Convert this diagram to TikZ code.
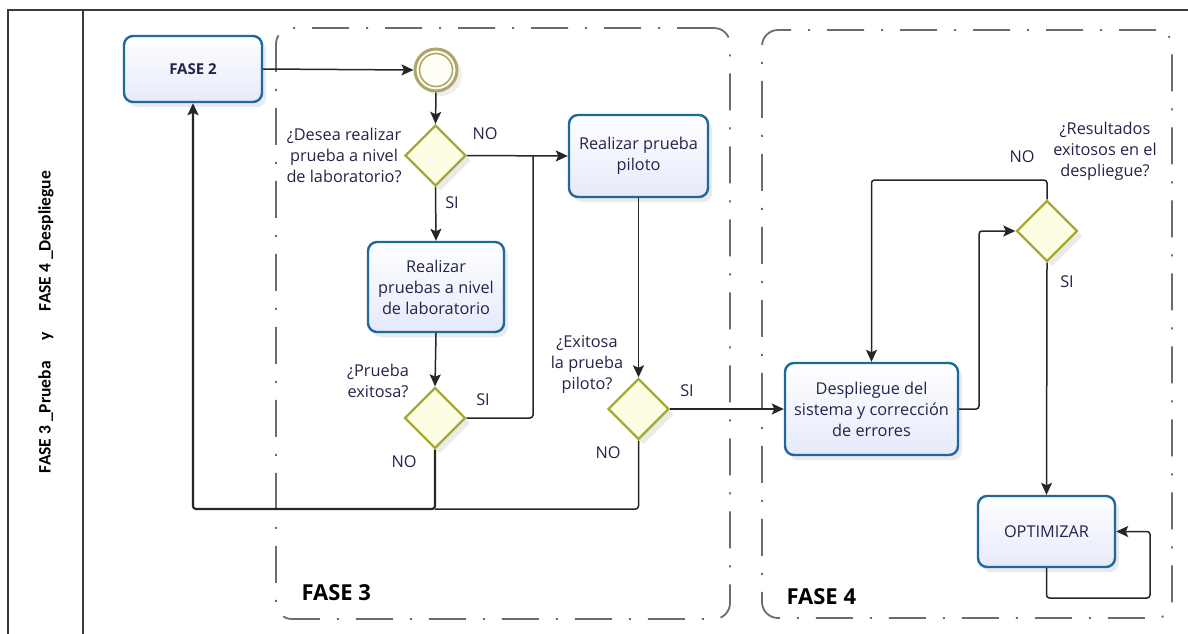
\documentclass[tikz,border=0pt]{standalone}
\usepackage{fontspec}
\setmainfont{Open Sans}
\newfontfamily\hdfont{Carlito}
\usetikzlibrary{shapes.geometric,arrows.meta,shadows,backgrounds}
\definecolor{taskline}{HTML}{1D6A9A}
\definecolor{taskfill}{HTML}{E6E9FA}
\definecolor{gateline}{HTML}{A8A832}
\definecolor{gatefill}{HTML}{FDFDE4}
\definecolor{evline}{HTML}{ADA66A}
\definecolor{evfill}{HTML}{FFFDF6}
\definecolor{txt}{HTML}{24244A}
\definecolor{grpline}{HTML}{6C6C6C}
\definecolor{laneline}{HTML}{3A3A3A}

% all connector paths, drawn once per style
\newcommand\flowpaths[2]{%
  \draw[#1] (f2.east) -- (start.west);
  \draw[#1] (start.south) -- (g1.north);
  \draw[#1] (g1.south) -- (lab.north);
  \draw[#1] (g1.east) -- (pil.west);
  \draw[#2] (g2.east) -| (j1);
  \draw[#1] (lab.south) -- (g2.north);
  \draw[#1, line width=2.2pt] (g2.south) -- (b1) -| (f2.south);
  \draw[#2] (g3.south) |- (b1);
  \draw[#1] (pil.south) -- (g3.north);
  \draw[#1] (g3.east) -- (dep.west);
  \draw[#1] (dep.east) -- (j2) |- (g4.west);
  \draw[#1] (g4.north) -- (j3) -| (dep.north);
  \draw[#1] (g4.south) -- (opt.north);
  \draw[#1] (opt.south) -- (j4) -| (j5) -- (opt.east);
}

\begin{document}
\begin{tikzpicture}[x=1pt,y=-1pt,
  every node/.style={font=\fontsize{16.3}{21}\selectfont, text=txt},
  task/.style={draw=taskline, line width=2.4pt, rounded corners=9pt,
    top color=white, bottom color=taskfill, align=center, inner sep=0pt,
    drop shadow={opacity=.16, shadow xshift=4pt, shadow yshift=-5pt}},
  gate/.style={diamond, draw=gateline, line width=2.4pt, fill=gatefill,
    minimum width=61pt, minimum height=61pt, inner sep=0pt,
    drop shadow={opacity=.16, shadow xshift=5pt, shadow yshift=-5pt}},
  grp/.style={draw=grpline, line width=1.8pt, rounded corners=16pt,
    dash pattern=on 37pt off 17pt on 2pt off 17pt, inner sep=0pt},
  grplabel/.style={font=\fontsize{22}{26}\bfseries\selectfont, text=black, anchor=west},
  question/.style={align=center},
  answer/.style={},
  flow/.style={draw=black!85, line width=1.5pt, rounded corners=3pt,
    -{Stealth[length=12pt,width=11pt,inset=2.5pt]}},
  link/.style={draw=black!85, line width=1.5pt, rounded corners=3pt},
  ghostflow/.style={draw=black!7, line width=1.2pt, rounded corners=3pt,
    -{Stealth[length=12pt,width=11pt,inset=2.5pt]},
    transform canvas={xshift=15pt,yshift=-15pt}},
  ghostlink/.style={draw=black!7, line width=1.2pt, rounded corners=3pt,
    transform canvas={xshift=15pt,yshift=-15pt}},
]
\useasboundingbox (0,0) rectangle (1188,633);
\fill[white] (0,0) rectangle (1188,633);

% pool with its lane header
\draw[laneline, line width=1.2pt] (1190,10) -- (8,10) -- (8,640);
\draw[laneline, line width=1.2pt] (83,10) -- (83,640);
\node[rotate=90, font=\hdfont\fontsize{17.5}{20}\bfseries\selectfont, text=black] (lane) at (46,322)
  {FASE 3 \_Prueba\hspace{1.2em}y\hspace{1.2em}FASE 4 \_Despliegue};

% phase groups
\node[grp, minimum width=454pt, minimum height=591pt] (grp3) at (503,323.5) {};
\node[grp, minimum width=410pt, minimum height=588pt] (grp4) at (967,324) {};
\node[grplabel] (lbl3) at (298,593) {FASE 3};
\node[grplabel] (lbl4) at (783,597) {FASE 4};

% activities
\node[task, minimum width=138pt, minimum height=66pt, font=\fontsize{15}{20}\bfseries\selectfont] (f2) at (193,69) {FASE 2};
\node[task, minimum width=136pt, minimum height=90pt] (lab) at (436,287) {Realizar\\pruebas a nivel\\de laboratorio};
\node[task, minimum width=139pt, minimum height=82pt] (pil) at (638.5,156) {Realizar prueba\\piloto};
\node[task, minimum width=173pt, minimum height=92pt] (dep) at (871.5,409) {Despliegue del\\sistema y correcci\'on\\de errores};
\node[task, minimum width=137pt, minimum height=71pt] (opt) at (1046.5,531.5) {OPTIMIZAR};

% start event
\node[circle, draw=evline, line width=3pt, fill=evfill, minimum size=42pt, inner sep=0pt,
  drop shadow={opacity=.12, shadow xshift=5pt, shadow yshift=-5pt}] (start) at (436,70) {};
\draw[evline, line width=1.6pt] (start.center) circle (16.5);

% gateways
\node[gate] (g1) at (435.5,155.5) {};
\node[gate] (g2) at (435,418) {};
\node[gate] (g3) at (638.5,409) {};
\node[gate] (g4) at (1047,231) {};

% questions and branch labels
\node[question] (q1) at (344,155) {¿Desea realizar\\prueba a nivel\\de laboratorio?};
\node[question] (q2) at (378,381) {¿Prueba\\exitosa?};
\node[question] (q3) at (587,364) {¿Exitosa\\la prueba\\piloto?};
\node[question] (q4) at (1105,151) {¿Resultados\\exitosos en el\\despliegue?};
\node[answer] (a1n) at (485,134) {NO};
\node[answer] (a1s) at (452,203) {SI};
\node[answer] (a2s) at (483,400) {SI};
\node[answer] (a2n) at (404,462) {NO};
\node[answer] (a3s) at (687,391) {SI};
\node[answer] (a3n) at (608,453) {NO};
\node[answer] (a4n) at (1022,157) {NO};
\node[answer] (a4s) at (1067,282) {SI};

% bends of the connectors
\coordinate (j1) at (533,155.5);
\coordinate (b1) at (435,509);
\coordinate (j2) at (979,409);
\coordinate (j3) at (1047,180);
\coordinate (j4) at (1046.5,598);
\coordinate (j5) at (1150,531.5);

\begin{pgfonlayer}{background}
  \flowpaths{ghostflow}{ghostlink}
\end{pgfonlayer}
\flowpaths{flow}{link}
\end{tikzpicture}
\end{document}
